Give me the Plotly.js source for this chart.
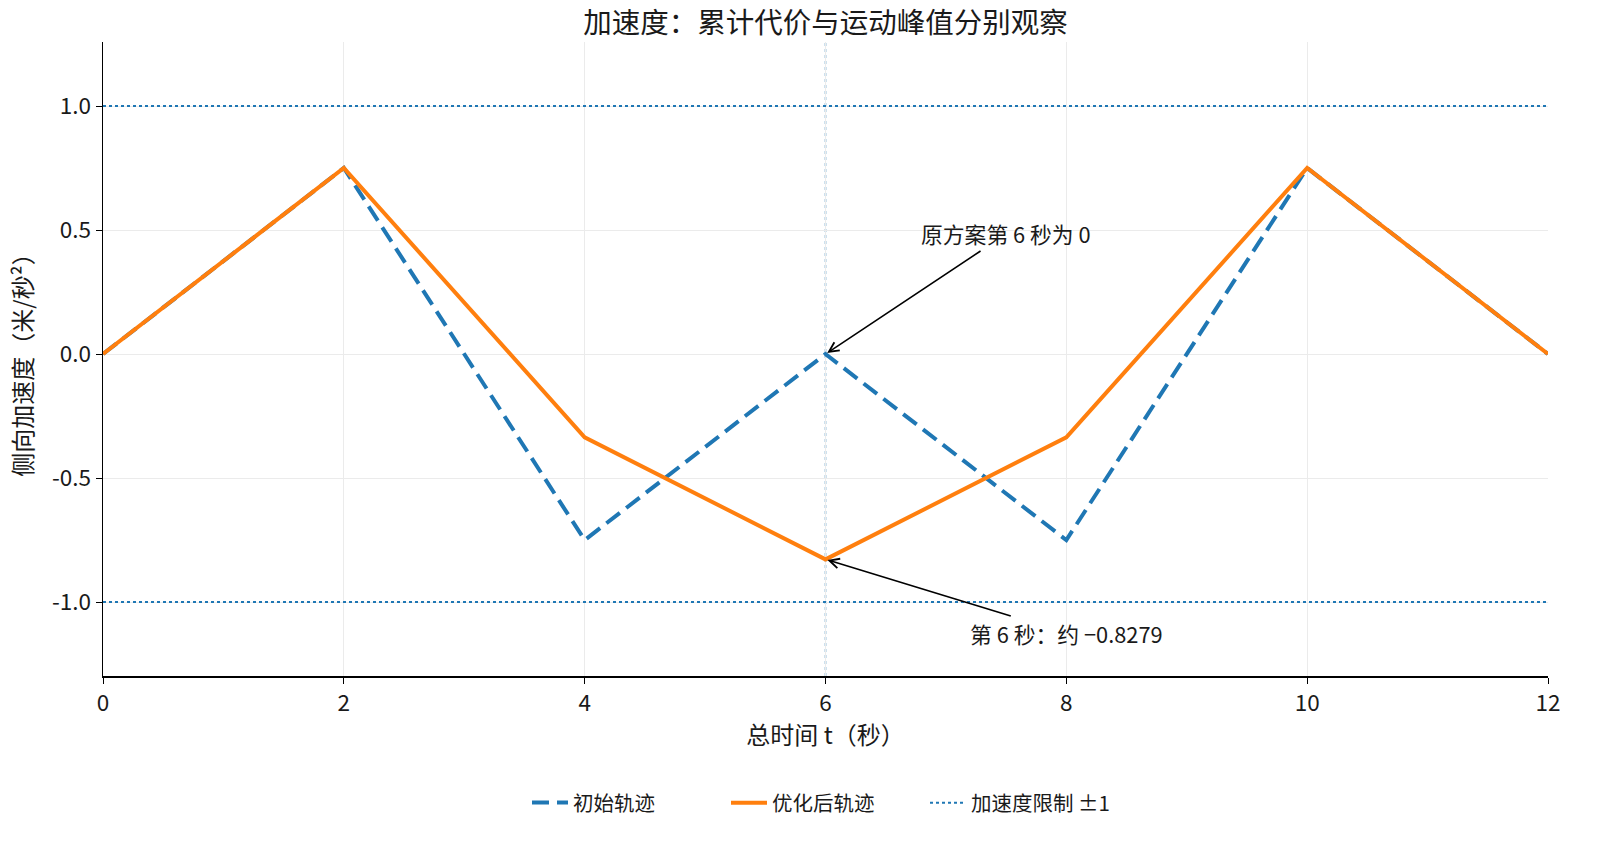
<!DOCTYPE html>
<html>
<head>
<meta charset="utf-8">
<script src="https://cdn.plot.ly/plotly-3.0.1.min.js"></script>
<style>html,body{margin:0;padding:0;background:#fff;}#chart{width:1600px;height:848px;}</style>
</head>
<body>
<div id="chart"></div>
<script>
const timeS = [0, 2, 4, 6, 8, 10, 12];
const initialAccel = [0, 0.75, -0.75, 0, -0.75, 0.75, 0];
const optimizedAccel = [0, 0.75, -0.3357, -0.8279, -0.3357, 0.75, 0];
const limitX = [0, 12];
const limitUpper = [1, 1];
const limitLower = [-1, -1];
const xTicks = [0, 2, 4, 6, 8, 10, 12];
const yTicks = [-1.0, -0.5, 0.0, 0.5, 1.0];
const yTickText = ['-1.0', '-0.5', '0.0', '0.5', '1.0'];
const names = ['初始轨迹', '优化后轨迹', '加速度限制 ±1'];
const titleText = '加速度：累计代价与运动峰值分别观察';
const xTitle = '总时间 t（秒）';
const yTitle = '侧向加速度（米/秒²）';
const note1 = '原方案第 6 秒为 0';
const note2 = '第 6 秒：约 −0.8279';

const FONT = '"Noto Sans CJK SC", "Noto Sans", sans-serif';
const blue = '#1f77b4', orange = '#ff7f0e';
const ink = '#1a1a1a';

const traces = [
  {x: timeS, y: initialAccel, mode: 'lines', name: names[0],
   line: {color: blue, width: 4, dash: '17px,8px'}},
  {x: timeS, y: optimizedAccel, mode: 'lines', name: names[1],
   line: {color: orange, width: 4}},
  {x: limitX, y: limitUpper, mode: 'lines', name: names[2], legendgroup: 'lim',
   line: {color: blue, width: 2, dash: 'dot'}},
  {x: limitX, y: limitLower, mode: 'lines', name: names[2], legendgroup: 'lim', showlegend: false,
   line: {color: blue, width: 2, dash: 'dot'}}
];

const layout = {
  width: 1600, height: 848, autosize: false,
  paper_bgcolor: '#fff', plot_bgcolor: '#fff',
  font: {family: FONT, size: 20, color: ink},
  margin: {l: 103, r: 52, t: 42, b: 172, autoexpand: false},
  title: {text: titleText, x: 0.5159, xanchor: 'center', xref: 'container',
          y: 0.973, yanchor: 'middle', yref: 'container',
          font: {family: FONT, size: 28.5, color: ink}},
  xaxis: {
    range: [0, 12], tickvals: xTicks, ticktext: xTicks.map(String),
    showgrid: true, gridcolor: '#ebebeb', gridwidth: 1, zeroline: false,
    showline: true, linecolor: '#000', linewidth: 1.5,
    ticks: 'outside', ticklen: 6, tickcolor: '#000',
    tickfont: {size: 22.5, family: FONT, color: ink},
    title: {text: xTitle, font: {size: 24, family: FONT, color: ink}, standoff: 6}
  },
  yaxis: {
    range: [-1.298, 1.258], tickvals: yTicks, ticktext: yTickText,
    showgrid: true, gridcolor: '#ebebeb', gridwidth: 1, zeroline: false,
    showline: true, linecolor: '#000', linewidth: 1.5,
    ticks: 'outside', ticklen: 6, tickcolor: '#000',
    tickfont: {size: 22.5, family: FONT, color: ink},
    title: {text: yTitle, font: {size: 24, family: FONT, color: ink}, standoff: 12}
  },
  shapes: [
    {type: 'line', xref: 'x', yref: 'paper', x0: 6, x1: 6, y0: 0, y1: 1,
     line: {color: 'rgba(31,119,180,0.45)', width: 2, dash: 'dot'}, layer: 'below'}
  ],
  annotations: [
    {x: 6, y: 0, xref: 'x', yref: 'y', ax: 7.5, ay: 0.484, axref: 'x', ayref: 'y',
     text: note1, showarrow: true, arrowhead: 5, arrowsize: 1.2, arrowwidth: 1.6, arrowcolor: '#000',
     standoff: 2, font: {size: 21.8, family: FONT, color: ink}},
    {x: 6, y: -0.8279, xref: 'x', yref: 'y', ax: 8.0, ay: -1.125, axref: 'x', ayref: 'y',
     text: note2, showarrow: true, arrowhead: 5, arrowsize: 1.2, arrowwidth: 1.6, arrowcolor: '#000',
     standoff: 2, font: {size: 21.8, family: FONT, color: ink}}
  ],
  showlegend: true,
  legend: {orientation: 'h', x: 0.5, xanchor: 'center', xref: 'paper', y: -0.2, yanchor: 'middle', yref: 'paper',
           font: {size: 20.5, family: FONT, color: ink}, itemwidth: 36, entrywidth: 148, entrywidthmode: 'pixels',
           bgcolor: 'rgba(0,0,0,0)'}
};

Plotly.newPlot('chart', traces, layout, {displayModeBar: false, staticPlot: true});
</script>
</body>
</html>
